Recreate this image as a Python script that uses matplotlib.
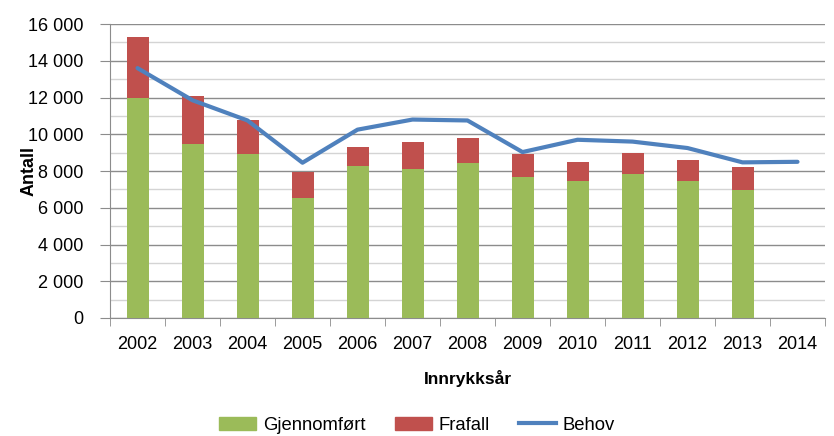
import matplotlib
matplotlib.use("Agg")
import matplotlib.pyplot as plt
import numpy as np
from matplotlib.ticker import FuncFormatter, MultipleLocator
from matplotlib.patches import Patch
from matplotlib.lines import Line2D

years = ["2002", "2003", "2004", "2005", "2006", "2007", "2008",
         "2009", "2010", "2011", "2012", "2013", "2014"]
gjennomfort = [12000, 9450, 8950, 6550, 8250, 8100, 8450, 7700, 7450, 7850, 7470, 6970, 0]
totalt = [15280, 12100, 10780, 7950, 9300, 9600, 9800, 8930, 8500, 8980, 8600, 8200, 0]
behov = [13600, 11850, 10750, 8450, 10250, 10800, 10750, 9030, 9700, 9600, 9250, 8470, 8500]

frafall = [t - g for t, g in zip(totalt, gjennomfort)]

GREEN = "#9BBB59"
RED = "#C0504D"
BLUE = "#4F81BD"

plt.rcParams["font.family"] = ["Liberation Sans", "DejaVu Sans"]


def thousands(x, pos):
    return "{:,.0f}".format(x).replace(",", " ")


fig = plt.figure(figsize=(8.34, 4.36), dpi=100)
ax = fig.add_axes([110 / 834, 1 - 318 / 436, 715 / 834, 294 / 436])

x = np.arange(len(years))
ax.bar(x, gjennomfort, width=0.4, color=GREEN, zorder=3)
ax.bar(x, frafall, width=0.4, bottom=gjennomfort, color=RED, zorder=3)
ax.plot(x, behov, color=BLUE, lw=3, zorder=4, solid_capstyle="round")

ax.set_xlim(-0.5, len(years) - 0.5)
ax.set_ylim(0, 16000)

ax.yaxis.set_major_locator(MultipleLocator(2000))
ax.yaxis.set_minor_locator(MultipleLocator(1000))
ax.yaxis.set_major_formatter(FuncFormatter(thousands))
ax.grid(axis="y", which="major", color="#8c8c8c", lw=1, zorder=0)
ax.grid(axis="y", which="minor", color="#d4d4d4", lw=1, zorder=0)
ax.tick_params(axis="y", which="major", length=7, color="#8c8c8c", labelsize=13, pad=12)
ax.tick_params(axis="y", which="minor", length=0)

ax.set_xticks(x)
ax.set_xticklabels(years)
ax.set_xticks(np.arange(-0.5, len(years), 1), minor=True)
ax.tick_params(axis="x", which="major", length=0, labelsize=13, pad=13)
ax.tick_params(axis="x", which="minor", length=6, color="#8c8c8c")

for s in ["top", "right"]:
    ax.spines[s].set_visible(False)
ax.spines["left"].set_color("#8c8c8c")
ax.spines["bottom"].set_color("#8c8c8c")

ax.set_ylabel("Antall", fontsize=13, fontweight="bold")
ax.yaxis.set_label_coords(-72 / 715, 0.5)
ax.set_xlabel("Innrykksår", fontsize=12.5, fontweight="bold")
ax.xaxis.set_label_coords(0.5, -52 / 294)

handles = [Patch(color=GREEN), Patch(color=RED), Line2D([], [], color=BLUE, lw=3)]
fig.legend(handles, ["Gjennomført", "Frafall", "Behov"], loc="center",
           bbox_to_anchor=(0.5, 1 - 425 / 436), ncol=3, frameon=False,
           fontsize=13.3, handlelength=2.0, handletextpad=0.35, columnspacing=1.6)

fig.savefig("out.png", dpi=100)
